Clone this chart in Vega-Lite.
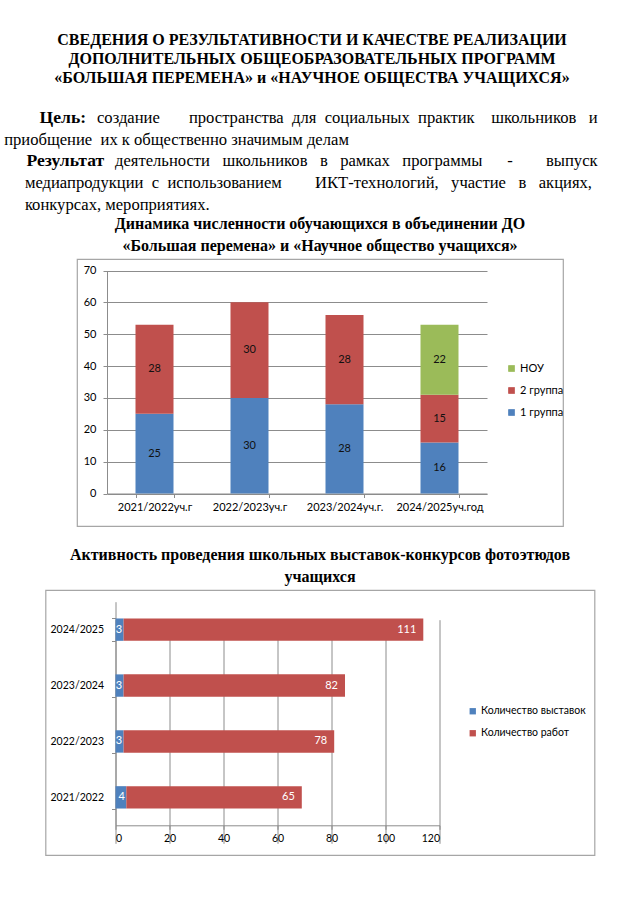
{
  "$schema": "https://vega.github.io/schema/vega-lite/v6.json",
  "background": "white",
  "padding": {"top": 32, "left": 0, "right": 0, "bottom": 0},
  "title": {
    "text": ["СВЕДЕНИЯ О РЕЗУЛЬТАТИВНОСТИ И КАЧЕСТВЕ РЕАЛИЗАЦИИ", "ДОПОЛНИТЕЛЬНЫХ ОБЩЕОБРАЗОВАТЕЛЬНЫХ ПРОГРАММ", "«БОЛЬШАЯ ПЕРЕМЕНА» и «НАУЧНОЕ ОБЩЕСТВА УЧАЩИХСЯ»"],
    "anchor": "middle",
    "font": "Liberation Serif",
    "fontSize": 16,
    "fontWeight": "bold",
    "lineHeight": 19,
    "color": "#000",
    "dx": -8,
    "offset": 21
  },
  "bounds": "flush",
  "center": true,
  "spacing": 64,
  "resolve": {"scale": {"color": "independent"}, "legend": {"color": "independent"}},
  "vconcat": [
    {
      "width": 640,
      "height": 88,
      "view": {"stroke": null},
      "encoding": {
        "y": {"field": "line", "type": "quantitative", "scale": {"domain": [0.5, 4.55], "reverse": true, "nice": false, "zero": false}, "axis": null},
        "x": {"value": 0},
        "text": {"field": "text"}
      },
      "layer": [
        {
          "data": {"values": [
            {"line": 1, "text": "\u200b\u00a0\u00a0\u00a0\u00a0\u00a0\u00a0\u00a0\u00a0\u00a0Цель:"},
            {"line": 3, "text": "\u200b\u00a0\u00a0\u00a0\u00a0\u00a0\u00a0Результат"}
          ]},
          "mark": {"type": "text", "align": "left", "baseline": "middle", "font": "Liberation Serif", "fontSize": 17.6, "fontWeight": "bold", "color": "#000"}
        },
        {
          "data": {"values": [
            {"line": 1, "text": "создание\u00a0\u00a0\u00a0\u00a0\u00a0\u00a0\u00a0пространства\u00a0 для\u00a0 социальных\u00a0 практик\u00a0\u00a0\u00a0\u00a0школьников\u00a0\u00a0 и"}
          ]},
          "mark": {"type": "text", "align": "left", "baseline": "middle", "dx": 97, "font": "Liberation Serif", "fontSize": 16.6, "color": "#000"}
        },
        {
          "data": {"values": [
            {"line": 3, "text": "деятельности\u00a0\u00a0 школьников\u00a0\u00a0 в\u00a0\u00a0 рамках\u00a0\u00a0 программы\u00a0\u00a0\u00a0\u00a0\u00a0\u00a0-\u00a0\u00a0\u00a0\u00a0\u00a0\u00a0\u00a0\u00a0выпуск"}
          ]},
          "mark": {"type": "text", "align": "left", "baseline": "middle", "dx": 115, "font": "Liberation Serif", "fontSize": 16.6, "color": "#000"}
        },
        {
          "data": {"values": [
            {"line": 2, "text": "\u200b\u00a0приобщение\u00a0 их к общественно значимым делам"},
            {"line": 4, "text": "\u200b\u00a0\u00a0\u00a0\u00a0\u00a0\u00a0медиапродукции\u00a0 с\u00a0 использованием\u00a0\u00a0\u00a0\u00a0\u00a0\u00a0\u00a0\u00a0ИКТ-технологий,\u00a0\u00a0 участие\u00a0\u00a0 в\u00a0\u00a0 акциях,"},
            {"line": 5, "text": "\u200b\u00a0\u00a0\u00a0\u00a0\u00a0\u00a0конкурсах, мероприятиях."}
          ]},
          "mark": {"type": "text", "align": "left", "baseline": "middle", "font": "Liberation Serif", "fontSize": 16.6, "color": "#000"}
        }
      ]
    },
    {
      "width": 486,
      "height": 267,
      "title": {"text": ["Динамика численности обучающихся в объединении ДО", "«Большая перемена» и «Научное общество учащихся»"], "offset": 5},
      "data": {"values": [
        {"year": "2021/2022уч.г", "group": "1 группа", "n": 25},
        {"year": "2021/2022уч.г", "group": "2 группа", "n": 28},
        {"year": "2022/2023уч.г", "group": "1 группа", "n": 30},
        {"year": "2022/2023уч.г", "group": "2 группа", "n": 30},
        {"year": "2023/2024уч.г.", "group": "1 группа", "n": 28},
        {"year": "2023/2024уч.г.", "group": "2 группа", "n": 28},
        {"year": "2024/2025уч.год", "group": "1 группа", "n": 16},
        {"year": "2024/2025уч.год", "group": "2 группа", "n": 15},
        {"year": "2024/2025уч.год", "group": "НОУ", "n": 22}
      ]},
      "encoding": {
        "x": {
          "field": "year", "type": "nominal", "sort": null,
          "scale": {"range": [30, 410], "paddingInner": 0.6, "paddingOuter": 0.3},
          "axis": {"offset": -32.5, "tickBand": "extent", "tickSize": 4, "labelPadding": 4, "labelAngle": 0, "grid": false}
        }
      },
      "layer": [
        {
          "mark": {"type": "bar"},
          "encoding": {
            "y": {
              "field": "n", "type": "quantitative", "stack": "zero",
              "scale": {"domain": [0, 70], "range": [234.5, 11.5], "nice": false},
              "axis": {"offset": -30, "values": [0, 10, 20, 30, 40, 50, 60, 70], "grid": true, "tickSize": 4, "labelPadding": 7}
            },
            "color": {
              "field": "group", "type": "nominal",
              "scale": {"domain": ["НОУ", "2 группа", "1 группа"], "range": ["#9BBB59", "#C0504D", "#4F81BD"]},
              "legend": {"orient": "none", "legendX": 429, "legendY": 104, "title": null, "symbolType": "square", "symbolSize": 45, "symbolStrokeWidth": 0, "rowPadding": 10, "labelOffset": 3}
            },
            "order": {"field": "group", "sort": "ascending"}
          }
        },
        {
          "mark": {"type": "text", "baseline": "middle", "fontSize": 11, "color": "#111"},
          "encoding": {
            "y": {
              "field": "n", "type": "quantitative", "stack": "zero", "bandPosition": 0.5,
              "scale": {"domain": [0, 70], "range": [234.5, 11.5], "nice": false},
              "axis": {"offset": -30, "values": [0, 10, 20, 30, 40, 50, 60, 70], "grid": true, "tickSize": 4, "labelPadding": 7}
            },
            "detail": {"field": "group"},
            "order": {"field": "group", "sort": "ascending"},
            "text": {"field": "n"}
          }
        }
      ]
    },
    {
      "width": 549,
      "height": 265,
      "title": {"text": ["Активность проведения школьных выставок-конкурсов фотоэтюдов", "учащихся"], "offset": 0},
      "data": {"values": [
        {"year": "2024/2025", "series": "Количество выставок", "n": 3},
        {"year": "2024/2025", "series": "Количество работ", "n": 111},
        {"year": "2023/2024", "series": "Количество выставок", "n": 3},
        {"year": "2023/2024", "series": "Количество работ", "n": 82},
        {"year": "2022/2023", "series": "Количество выставок", "n": 3},
        {"year": "2022/2023", "series": "Количество работ", "n": 78},
        {"year": "2021/2022", "series": "Количество выставок", "n": 4},
        {"year": "2021/2022", "series": "Количество работ", "n": 65}
      ]},
      "encoding": {
        "y": {
          "field": "year", "type": "nominal",
          "scale": {"domain": ["2024/2025", "2023/2024", "2022/2023", "2021/2022"], "range": [11.7, 235.3], "paddingInner": 0.6, "paddingOuter": 0.3},
          "axis": {"offset": -70, "tickBand": "extent", "tickSize": 4, "labelPadding": 8, "labelFontSize": 10.5, "grid": false}
        }
      },
      "layer": [
        {
          "mark": {"type": "bar"},
          "encoding": {
            "x": {
              "field": "n", "type": "quantitative", "stack": "zero",
              "scale": {"domain": [0, 120], "range": [70, 394], "nice": false},
              "axis": {"offset": -29.7, "values": [0, 20, 40, 60, 80, 100, 120], "grid": true, "tickSize": 4, "labelPadding": 4, "labelFontSize": 10.5}
            },
            "color": {
              "field": "series", "type": "nominal",
              "scale": {"domain": ["Количество выставок", "Количество работ"], "range": ["#4F81BD", "#C0504D"]},
              "legend": {"orient": "none", "legendX": 422, "legendY": 116, "title": null, "symbolType": "square", "symbolSize": 40, "symbolStrokeWidth": 0, "rowPadding": 11, "labelOffset": 3, "labelFontSize": 10.5}
            },
            "order": {"field": "series", "sort": "ascending"}
          }
        },
        {
          "transform": [
            {"stack": "n", "groupby": ["year"], "sort": [{"field": "series", "order": "ascending"}], "as": ["x0", "x1"]},
            {"filter": "datum.series === 'Количество работ'"}
          ],
          "mark": {"type": "text", "align": "right", "baseline": "middle", "dx": -7, "fontSize": 11, "color": "white"},
          "encoding": {
            "x": {
              "field": "x1", "type": "quantitative",
              "scale": {"domain": [0, 120], "range": [70, 394], "nice": false},
              "axis": {"offset": -29.7, "values": [0, 20, 40, 60, 80, 100, 120], "grid": true, "tickSize": 4, "labelPadding": 4, "labelFontSize": 10.5}
            },
            "text": {"field": "n"}
          }
        },
        {
          "transform": [
            {"stack": "n", "groupby": ["year"], "sort": [{"field": "series", "order": "ascending"}], "as": ["x0", "x1"]},
            {"filter": "datum.series === 'Количество выставок'"}
          ],
          "mark": {"type": "text", "align": "right", "baseline": "middle", "dx": -1.5, "fontSize": 11, "color": "white"},
          "encoding": {
            "x": {
              "field": "x1", "type": "quantitative",
              "scale": {"domain": [0, 120], "range": [70, 394], "nice": false},
              "axis": {"offset": -29.7, "values": [0, 20, 40, 60, 80, 100, 120], "grid": true, "tickSize": 4, "labelPadding": 4, "labelFontSize": 10.5}
            },
            "text": {"field": "n"}
          }
        }
      ]
    }
  ],
  "config": {
    "view": {"stroke": "#A6A6A6", "strokeWidth": 1.2},
    "axis": {"title": null, "labelFont": "Lato", "labelFontSize": 11, "labelColor": "#000", "domainColor": "#8C8C8C", "tickColor": "#8C8C8C", "gridColor": "#8C8C8C", "gridOpacity": 1, "domainWidth": 1, "gridWidth": 1},
    "legend": {"labelFont": "Lato", "labelFontSize": 11, "labelColor": "#000"},
    "title": {"font": "Liberation Serif", "fontSize": 16, "fontWeight": "bold", "color": "#000", "anchor": "middle", "lineHeight": 22},
    "text": {"font": "Lato"}
  }
}
